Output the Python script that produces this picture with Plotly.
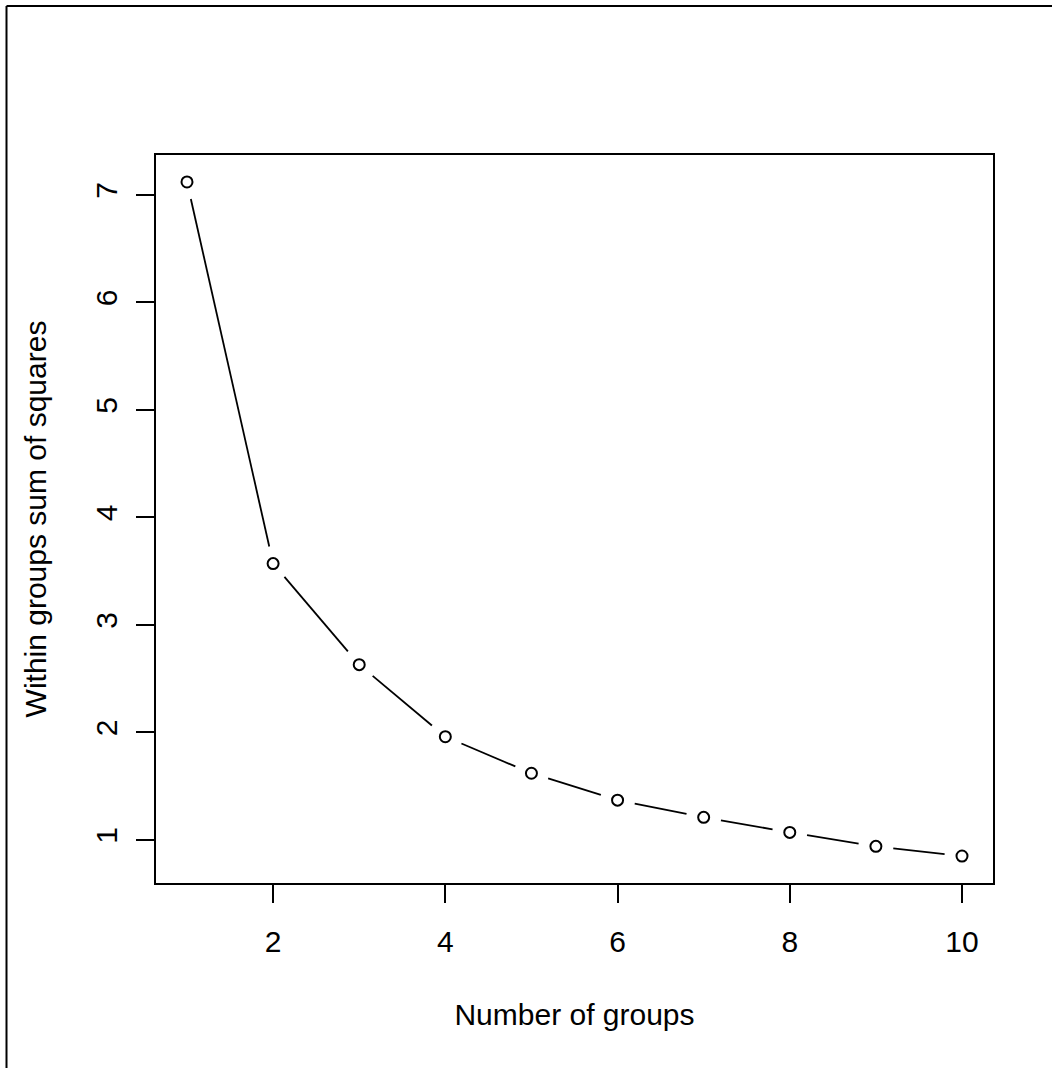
import numpy as np
import plotly.graph_objects as go

# ---- data ----
groups = [1, 2, 3, 4, 5, 6, 7, 8, 9, 10]
wss = [7.12, 3.57, 2.63, 1.96, 1.62, 1.37, 1.21, 1.07, 0.94, 0.85]
x_ticks = [2, 4, 6, 8, 10]
y_ticks = [1, 2, 3, 4, 5, 6, 7]
x_title = "Number of groups"
y_title = "Within groups sum of squares"

# ---- layout geometry ----
W, H = 1061, 1068
ML, MR, MT, MB = 156, 68, 155, 185
PW, PH = W - ML - MR, H - MT - MB

def padded(lo, hi):
    d = (hi - lo) * 0.04
    return [lo - d, hi + d]

xr = padded(min(groups), max(groups))
yr = padded(min(wss), max(wss))
sx = PW / (xr[1] - xr[0])
sy = PH / (yr[1] - yr[0])

# R type="b": segments with gaps around points
GAP = 17.5
seg_x, seg_y = [], []
for i in range(len(groups) - 1):
    x0, y0, x1, y1 = groups[i], wss[i], groups[i + 1], wss[i + 1]
    dx, dy = (x1 - x0) * sx, (y1 - y0) * sy
    L = np.hypot(dx, dy)
    if L <= 2 * GAP:
        continue
    f = GAP / L
    seg_x += [x0 + (x1 - x0) * f, x1 - (x1 - x0) * f, None]
    seg_y += [y0 + (y1 - y0) * f, y1 - (y1 - y0) * f, None]

FONT = "Liberation Sans, Arial, Helvetica, sans-serif"

fig = go.Figure()
fig.add_trace(go.Scatter(x=seg_x, y=seg_y, mode="lines",
                         line=dict(color="black", width=1.8),
                         hoverinfo="skip", showlegend=False))
fig.add_trace(go.Scatter(x=groups, y=wss, mode="markers",
                         marker=dict(symbol="circle-open", size=11,
                                     color="black", line=dict(width=2, color="black")),
                         showlegend=False))

axis_common = dict(showline=True, linecolor="black", linewidth=2, mirror=True,
                   ticks="outside", ticklen=18, tickwidth=1.5, tickcolor="black",
                   showgrid=False, zeroline=False,
                   tickfont=dict(family=FONT, size=30, color="black"))

fig.update_xaxes(range=xr, tickmode="array", tickvals=x_ticks,
                 ticktext=[str(v) for v in x_ticks], ticklabelstandoff=13,
                 title=dict(text=x_title, font=dict(family=FONT, size=30, color="black"), standoff=47),
                 **axis_common)
fig.update_yaxes(range=yr, tickmode="array", tickvals=y_ticks,
                 ticktext=[str(v) for v in y_ticks], tickangle=-90, ticklabelstandoff=7,
                 title=dict(text=y_title, font=dict(family=FONT, size=30, color="black"), standoff=35),
                 **axis_common)

# outer frame (top and left edges visible in the reference)
def px2paper_x(px):
    return (px - ML) / PW

def px2paper_y(py):
    return (H - MB - py) / PH

fig.add_shape(type="line", xref="paper", yref="paper",
              x0=px2paper_x(6.5), x1=px2paper_x(1052), y0=px2paper_y(6), y1=px2paper_y(6),
              line=dict(color="black", width=2))
fig.add_shape(type="line", xref="paper", yref="paper",
              x0=px2paper_x(6.5), x1=px2paper_x(6.5), y0=px2paper_y(6), y1=px2paper_y(1070),
              line=dict(color="black", width=2))

fig.update_layout(width=W, height=H,
                  margin=dict(l=ML, r=MR, t=MT, b=MB),
                  paper_bgcolor="white", plot_bgcolor="white",
                  font=dict(family=FONT, color="black"),
                  showlegend=False)

fig.write_html("out.html",
               config={"displayModeBar": False},
               post_script="document.body.style.margin='0px';document.body.style.overflow='hidden';")
